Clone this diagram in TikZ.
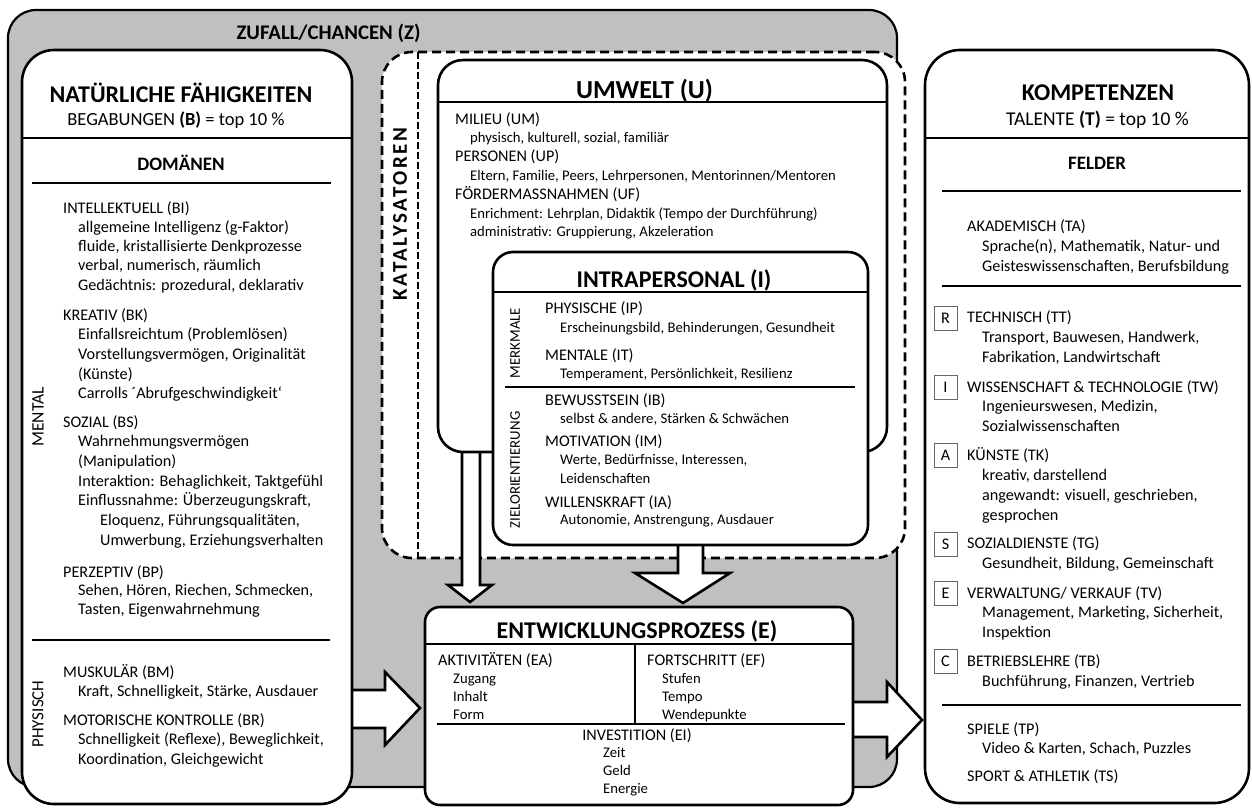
\documentclass[tikz,border=0pt]{standalone}
\usepackage{fontspec}
\setmainfont{Carlito}
\usetikzlibrary{calc}
\definecolor{zgray}{RGB}{192,192,192}
\newcommand{\Ind}{\hspace*{15pt}}
\newcommand{\IndB}{\hspace*{37pt}}
\newcommand{\Sm}[1]{{\fontsize{14.7}{17}\selectfont #1}}
\tikzset{
  boxw/.style={draw, line width=2.6pt, fill=white, inner sep=0pt, outer sep=0pt, rectangle},
  divider/.style={line width=1.8pt},
  blockarrow/.style={draw, fill=white, line width=2.6pt, line join=miter},
  % multi-line text: the node is placed by the baseline of its LAST line
  txt/.style={anchor=base west, inner sep=0pt, align=left, font=\fontsize{16.2}{#1}\selectfont},
  txt/.default=19.5,
  head/.style={anchor=base, inner sep=0pt, font=\bfseries\fontsize{24}{28}\selectfont},
  subhead/.style={anchor=base, inner sep=0pt, font=\fontsize{18.5}{22}\selectfont},
  sechead/.style={anchor=base, inner sep=0pt, font=\bfseries\fontsize{19}{22}\selectfont},
  sidelabel/.style={rotate=90, inner sep=0pt, font=\fontsize{#1}{#1}\selectfont},
  letterbox/.style={draw=black!60, line width=0.8pt, minimum width=23pt, minimum height=24pt, inner sep=0pt, font=\fontsize{16.2}{19}\selectfont},
}
\begin{document}
\begin{tikzpicture}[x=1pt,y=-1pt]
\useasboundingbox (0,0) rectangle (1252,807);
% --- frames
\node[boxw, fill=zgray, line width=2.2pt, rounded corners=28pt, minimum width=889pt, minimum height=777pt] (Z) at (452.5,398.5) {};
\node[boxw, dash pattern=on 9pt off 5pt, rounded corners=30pt, minimum width=523pt, minimum height=506pt] (KAT) at (643.5,305) {};
\draw[line width=2.6pt, dash pattern=on 7pt off 3pt] (KAT.north -| 418,0) -- (KAT.south -| 418,0);
% --- box placeholders (named), block arrows, then boxes
\node[boxw, draw=none, fill=none, minimum width=449pt, minimum height=392pt] (U) at (662.5,256) {};
\node[boxw, draw=none, fill=none, minimum width=375pt, minimum height=293pt] (I) at (680.5,398.5) {};
\node[boxw, draw=none, fill=none, minimum width=428pt, minimum height=198pt] (E) at (639,706) {};
\node[boxw, draw=none, fill=none, minimum width=330pt, minimum height=754pt] (B) at (187,427) {};
\node[boxw, draw=none, fill=none, minimum width=324pt, minimum height=753pt] (T) at (1087,426.5) {};
\draw[blockarrow] (B.east |- 0,690) -- (385,690) -- (385,672) -- ($(E.west |- 0,708)+(-5,0)$) -- (385,745) -- (385,728) -- (B.east |- 0,728);
\draw[blockarrow] (E.east |- 0,702) -- (887,702) -- (887,682) -- ($(T.west |- 0,720)+(-3,0)$) -- (887,757) -- (887,737) -- (E.east |- 0,737);
\draw[blockarrow] (U.south -| 462,0) -- (462,585) -- (448,585) -- ($(E.north -| 470,0)+(0,-5)$) -- (492,585) -- (480,585) -- (U.south -| 480,0);
\draw[blockarrow] (I.south -| 678,0) -- (678,573) -- (635,573) -- ($(E.north -| 683,0)+(0,-4)$) -- (730,573) -- (703,573) -- (I.south -| 703,0);
\draw[line width=2.6pt, fill=white, rounded corners=25pt] (U.north west) rectangle (U.south east);
\draw[line width=2.6pt, fill=white, rounded corners=20pt] (I.north west) rectangle (I.south east);
\draw[line width=2.6pt, fill=white, rounded corners=15pt] (E.north west) rectangle (E.south east);
\draw[line width=2.6pt, fill=white, rounded corners=32pt] (B.north west) rectangle (B.south east);
\draw[line width=2.6pt, fill=white, rounded corners=35pt] (T.north west) rectangle (T.south east);
% --- dividers
\draw[divider] (B.west |- 0,138) -- (B.east |- 0,138);
\draw[divider] (32,183) -- (331,183);
\draw[divider] (32,640) -- (330,640);
\draw[divider] (U.west |- 0,102) -- (U.east |- 0,102);
\draw[divider] (I.west |- 0,292) -- (I.east |- 0,292);
\draw[divider] (505,387) -- (855,387);
\draw[divider] (E.west |- 0,644) -- (E.east |- 0,644);
\draw[divider] (635,644) -- (635,723);
\draw[divider] (437,724) -- (845,724);
\draw[divider] (T.west |- 0,138) -- (T.east |- 0,138);
\draw[divider] (942,191) -- (1241,191);
\draw[divider] (942,286) -- (1241,286);
\draw[divider] (942,705) -- (1241,705);
% --- Zufall / Katalysatoren
\node[anchor=base, inner sep=0pt, font=\bfseries\fontsize{20.8}{24}\selectfont] (Ztitle) at (328.5,39) {ZUFALL/CHANCEN (Z)};
\node[rotate=90, inner sep=0pt, font=\bfseries\fontsize{21}{24}\selectfont\addfontfeature{LetterSpace=12}] (Klabel) at (400,214) {KATALYSATOREN};
% --- left box
\node[head] (Btitle) at (181,102) {NATÜRLICHE FÄHIGKEITEN};
\node[subhead] (Bsub) at (176,125) {BEGABUNGEN \textbf{(B)} = top 10 \%};
\node[sechead] (Bdom) at (181,170) {DOMÄNEN};
\node[sidelabel=17.5] (Bmental) at (38,417) {MENTAL};
\node[sidelabel=17] (Bphys) at (38,714) {PHYSISCH};
\node[txt=19.3] (BI) at (63,290.2) {INTELLEKTUELL (BI)\\\Ind allgemeine Intelligenz (g-Faktor)\\\Ind fluide, kristallisierte Denkprozesse\\\Ind verbal, numerisch, räumlich\\\Ind Gedächtnis: prozedural, deklarativ};
\node[txt=19.7] (BK) at (63,398.8) {KREATIV (BK)\\\Ind Einfallsreichtum (Problemlösen)\\\Ind Vorstellungsvermögen, Originalität\\\Ind (Künste)\\\Ind Carrolls ´Abrufgeschwindigkeit‘};
\node[txt=19.7] (BS) at (63,545.2) {SOZIAL (BS)\\\Ind Wahrnehmungsvermögen\\\Ind (Manipulation)\\\Ind Interaktion: Behaglichkeit, Taktgefühl\\\Ind Einflussnahme: Überzeugungskraft,\\\IndB Eloquenz, Führungsqualitäten,\\\IndB Umwerbung, Erziehungsverhalten};
\node[txt=18.8] (BP) at (63,614.6) {PERZEPTIV (BP)\\\Ind Sehen, Hören, Riechen, Schmecken,\\\Ind Tasten, Eigenwahrnehmung};
\node[txt=19.5] (BM) at (63,696.5) {MUSKULÄR (BM)\\\Ind Kraft, Schnelligkeit, Stärke, Ausdauer};
\node[txt=19.5] (BR) at (63,764) {MOTORISCHE KONTROLLE (BR)\\\Ind Schnelligkeit (Reflexe), Beweglichkeit,\\\Ind Koordination, Gleichgewicht};
% --- Umwelt
\node[head, font=\bfseries\fontsize{26}{30}\selectfont] (Utitle) at (644.5,98) {UMWELT (U)};
\node[txt=18.8] (Utext) at (455,236.8) {MILIEU (UM)\\\Ind\Sm{physisch, kulturell, sozial, familiär}\\PERSONEN (UP)\\\Ind\Sm{Eltern, Familie, Peers, Lehrpersonen, Mentorinnen/Mentoren}\\FÖRDERMASSNAHMEN (UF)\\\Ind\Sm{Enrichment: Lehrplan, Didaktik (Tempo der Durchführung)}\\\Ind\Sm{administrativ: Gruppierung, Akzeleration}};
% --- Intrapersonal
\node[head] (Ititle) at (674,287) {INTRAPERSONAL (I)};
\node[sidelabel=14.8] (Imerk) at (515,343) {MERKMALE};
\node[sidelabel=14.8] (Iziel) at (515,470) {ZIELORIENTIERUNG};
\node[txt=19] (IP) at (545,332) {PHYSISCHE (IP)\\\Ind\Sm{Erscheinungsbild, Behinderungen, Gesundheit}};
\node[txt=18.5] (IT) at (545,378.5) {MENTALE (IT)\\\Ind\Sm{Temperament, Persönlichkeit, Resilienz}};
\node[txt=18.5] (IB) at (545,423.5) {BEWUSSTSEIN (IB)\\\Ind\Sm{selbst \& andere, Stärken \& Schwächen}};
\node[txt=18.5] (IM) at (545,483) {MOTIVATION (IM)\\\Ind\Sm{Werte, Bedürfnisse, Interessen,}\\\Ind\Sm{Leidenschaften}};
\node[txt=17.5] (IA) at (545,524.5) {WILLENSKRAFT (IA)\\\Ind\Sm{Autonomie, Anstrengung, Ausdauer}};
% --- Entwicklungsprozess
\node[head] (Etitle) at (637,638) {ENTWICKLUNGSPROZESS (E)};
\node[txt=18] (EA) at (438,719) {AKTIVITÄTEN (EA)\\\Ind\Sm{Zugang}\\\Ind\Sm{Inhalt}\\\Ind\Sm{Form}};
\node[txt=18] (EF) at (647,719) {FORTSCHRITT (EF)\\\Ind\Sm{Stufen}\\\Ind\Sm{Tempo}\\\Ind\Sm{Wendepunkte}};
\node[anchor=base, inner sep=0pt, font=\fontsize{16.2}{18}\selectfont] (EI) at (637,740) {INVESTITION (EI)};
\node[txt=18] (EIitems) at (603,793) {\Sm{Zeit}\\\Sm{Geld}\\\Sm{Energie}};
% --- Kompetenzen
\node[head] (Ttitle) at (1098,100) {KOMPETENZEN};
\node[subhead, font=\fontsize{19.5}{22}\selectfont] (Tsub) at (1097.5,125) {TALENTE \textbf{(T)} = top 10 \%};
\node[sechead] (Tfeld) at (1097,169) {FELDER};
\node[txt=20] (TA) at (967,271) {AKADEMISCH (TA)\\\Ind Sprache(n), Mathematik, Natur- und\\\Ind Geisteswissenschaften, Berufsbildung};
\node[txt=20] (TT) at (967,362) {TECHNISCH (TT)\\\Ind Transport, Bauwesen, Handwerk,\\\Ind Fabrikation, Landwirtschaft};
\node[txt=19.5] (TW) at (967,431) {WISSENSCHAFT \& TECHNOLOGIE (TW)\\\Ind Ingenieurswesen, Medizin,\\\Ind Sozialwissenschaften};
\node[txt=20] (TK) at (967,520) {KÜNSTE (TK)\\\Ind kreativ, darstellend\\\Ind angewandt: visuell, geschrieben,\\\Ind gesprochen};
\node[txt=20] (TG) at (967,568) {SOZIALDIENSTE (TG)\\\Ind Gesundheit, Bildung, Gemeinschaft};
\node[txt=19.5] (TV) at (967,637) {VERWALTUNG/ VERKAUF (TV)\\\Ind Management, Marketing, Sicherheit,\\\Ind Inspektion};
\node[txt=20] (TB) at (967,686) {BETRIEBSLEHRE (TB)\\\Ind Buchführung, Finanzen, Vertrieb};
\node[txt=19] (TP) at (967,753) {SPIELE (TP)\\\Ind Video \& Karten, Schach, Puzzles};
\node[txt] (TS) at (967,781) {SPORT \& ATHLETIK (TS)};
\node[letterbox] (LR) at (945.5,318) {R};
\node[letterbox] (LI) at (945.5,387.5) {I};
\node[letterbox] (LA) at (945.5,455) {A};
\node[letterbox] (LS) at (945.5,544.5) {S};
\node[letterbox] (LE) at (945.5,593.5) {E};
\node[letterbox] (LC) at (945.5,661.5) {C};
\end{tikzpicture}
\end{document}
